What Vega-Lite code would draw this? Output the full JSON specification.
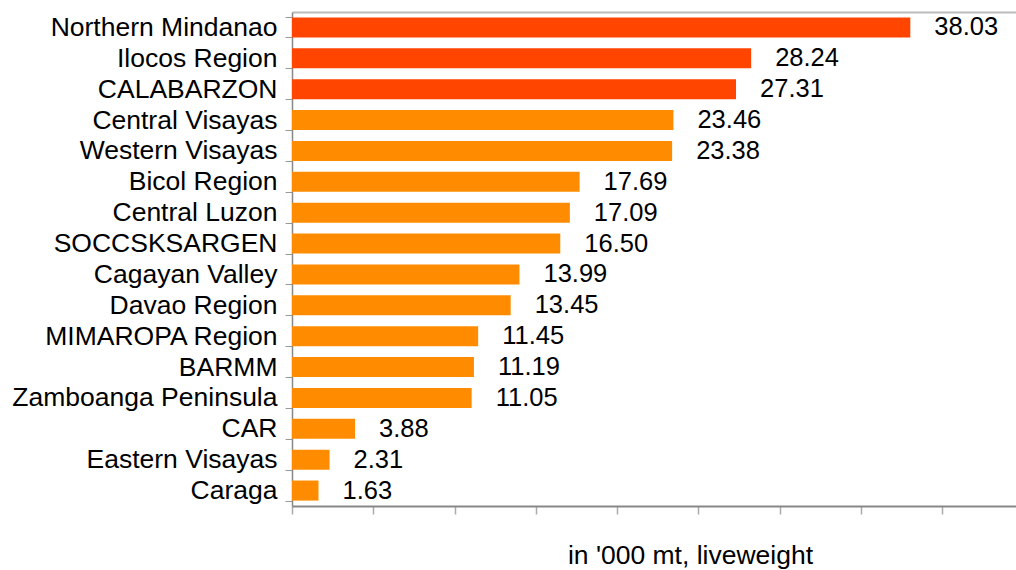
{
  "$schema": "https://vega.github.io/schema/vega-lite/v6.json",
  "width": 724,
  "height": 494,
  "autosize": {"type": "none"},
  "padding": {"left": 292, "top": 12, "right": 0, "bottom": 64},
  "background": "white",
  "config": {
    "view": {"stroke": null},
    "font": "Liberation Sans"
  },
  "data": {
    "values": [
      {"region": "Northern Mindanao", "value": 38.03, "group": "top"},
      {"region": "Ilocos Region", "value": 28.24, "group": "top"},
      {"region": "CALABARZON", "value": 27.31, "group": "top"},
      {"region": "Central Visayas", "value": 23.46, "group": "rest"},
      {"region": "Western Visayas", "value": 23.38, "group": "rest"},
      {"region": "Bicol Region", "value": 17.69, "group": "rest"},
      {"region": "Central Luzon", "value": 17.09, "group": "rest"},
      {"region": "SOCCSKSARGEN", "value": 16.50, "group": "rest"},
      {"region": "Cagayan Valley", "value": 13.99, "group": "rest"},
      {"region": "Davao Region", "value": 13.45, "group": "rest"},
      {"region": "MIMAROPA Region", "value": 11.45, "group": "rest"},
      {"region": "BARMM", "value": 11.19, "group": "rest"},
      {"region": "Zamboanga Peninsula", "value": 11.05, "group": "rest"},
      {"region": "CAR", "value": 3.88, "group": "rest"},
      {"region": "Eastern Visayas", "value": 2.31, "group": "rest"},
      {"region": "Caraga", "value": 1.63, "group": "rest"}
    ]
  },
  "encoding": {
    "y": {
      "field": "region",
      "type": "nominal",
      "sort": null,
      "scale": {"paddingInner": 0.35, "paddingOuter": 0.175},
      "axis": {
        "title": null,
        "tickBand": "extent",
        "labelFontSize": 26.5,
        "labelColor": "#000000",
        "labelPadding": 8,
        "tickSize": 7,
        "tickColor": "#999999",
        "domainColor": "#888888",
        "domainWidth": 1.5,
        "labelLimit": 400
      }
    }
  },
  "layer": [
    {
      "mark": {"type": "bar"},
      "encoding": {
        "x": {
          "field": "value",
          "type": "quantitative",
          "scale": {"domain": [0, 44.53], "nice": false},
          "axis": {
            "title": "in '000 mt, liveweight",
            "titleFontSize": 26.5,
            "titleFontWeight": "normal",
            "titleColor": "#000000",
            "titleX": 398,
            "titleY": 57,
            "titleBaseline": "alphabetic",
            "labels": false,
            "grid": false,
            "values": [0, 5, 10, 15, 20, 25, 30, 35, 40],
            "tickSize": 8,
            "tickColor": "#aaaaaa",
            "tickWidth": 1.5,
            "domainColor": "#888888",
            "domainWidth": 2
          }
        },
        "color": {
          "field": "group",
          "type": "nominal",
          "scale": {"domain": ["top", "rest"], "range": ["#FF4500", "#FF8C00"]},
          "legend": null
        }
      }
    },
    {
      "mark": {"type": "text", "align": "left", "baseline": "middle", "dx": 24, "fontSize": 25.5, "color": "#000000"},
      "encoding": {
        "x": {
          "field": "value",
          "type": "quantitative",
          "axis": {
            "orient": "top",
            "title": null,
            "labels": false,
            "ticks": false,
            "grid": false,
            "domainColor": "#bbbbbb",
            "domainWidth": 2
          }
        },
        "text": {"field": "value", "type": "quantitative", "format": ".2f"}
      }
    }
  ],
  "resolve": {"axis": {"x": "independent"}}
}
